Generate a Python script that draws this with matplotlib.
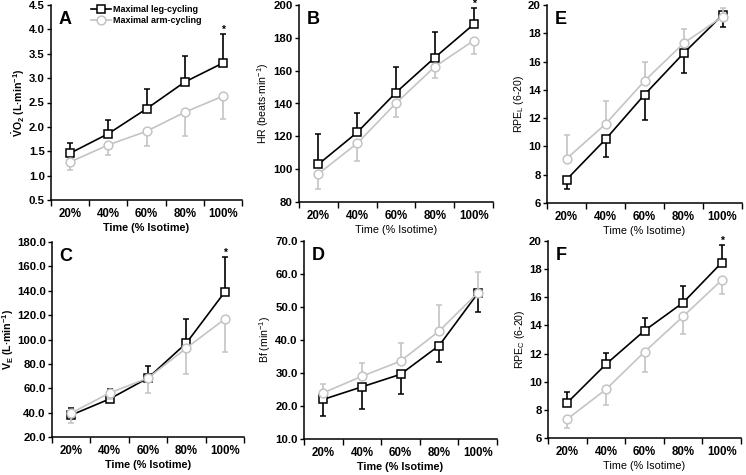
#!/usr/bin/env python3

from matplotlib import pyplot as plt
from matplotlib.lines import Line2D
from matplotlib.ticker import FormatStrFormatter, MultipleLocator, FixedLocator
import numpy as np

plt.rcParams['font.family'] = ['Liberation Sans', 'DejaVu Sans']
plt.rcParams['mathtext.fontset'] = 'custom'
plt.rcParams['mathtext.rm'] = 'Liberation Sans'
plt.rcParams['mathtext.it'] = 'Liberation Sans:italic'
plt.rcParams['mathtext.bf'] = 'Liberation Sans:bold'

x_labels = ['20%', '40%', '60%', '80%', '100%']

vo2_leg = [1.46, 1.86, 2.37, 2.92, 3.31]
vo2_leg_sd = [0.21, 0.28, 0.41, 0.53, 0.59]
vo2_arm = [1.28, 1.63, 1.91, 2.30, 2.63]
vo2_arm_sd = [0.17, 0.21, 0.30, 0.49, 0.47]

hr_leg = [103.0, 122.4, 146.7, 168.0, 188.2]
hr_leg_sd = [18.5, 11.9, 15.5, 15.7, 9.8]
hr_arm = [97.2, 115.7, 140.2, 162.4, 178.3]
hr_arm_sd = [9.0, 11.0, 8.5, 6.7, 8.4]

rpel_leg = [7.65, 10.5, 13.66, 16.58, 19.29]
rpel_leg_sd = [0.68, 1.23, 1.77, 1.41, 0.87]
rpel_arm = [9.13, 11.58, 14.63, 17.29, 19.17]
rpel_arm_sd = [1.67, 1.61, 1.32, 1.01, 0.60]

ve_leg = [38.0, 51.2, 68.4, 97.1, 139.0]
ve_leg_sd = [5.8, 8.2, 9.8, 19.7, 28.7]
ve_arm = [39.7, 56.1, 68.4, 93.0, 116.8]
ve_arm_sd = [8.2, 5.0, 12.3, 21.3, 27.1]

bf_leg = [22.0, 25.8, 29.6, 38.3, 54.1]
bf_leg_sd = [5.1, 6.6, 6.1, 5.0, 5.5]
bf_arm = [24.0, 29.0, 33.6, 42.7, 54.3]
bf_arm_sd = [2.7, 4.1, 5.5, 8.0, 6.3]

rpec_leg = [8.51, 11.24, 13.63, 15.62, 18.46]
rpec_leg_sd = [0.74, 0.80, 0.93, 1.19, 1.24]
rpec_arm = [7.35, 9.45, 12.12, 14.64, 17.22]
rpec_arm_sd = [0.62, 1.13, 1.42, 1.24, 1.00]

W, H = 746, 475
GRAY = '#c4c4c4'


def add_axes(fig, left, right, top, bottom):
    return fig.add_axes([left / W, 1 - bottom / H, (right - left) / W, (bottom - top) / H])


def panel(ax, letter, leg, leg_sd, arm, arm_sd, ylim, ystep, yfmt, ylabel,
          leg_up=True, star=False, bold_label=False, bold_xlabel=True):
    x = np.arange(1, 6)
    zeros = np.zeros(5)
    leg_err = [zeros, leg_sd] if leg_up else [leg_sd, zeros]
    arm_err = [arm_sd, zeros] if leg_up else [zeros, arm_sd]
    ax.errorbar(x, leg, yerr=leg_err, color='black', lw=1.2, marker='s', ms=6.3,
                mfc='white', mec='black', mew=1.1, capsize=2, elinewidth=1.2,
                capthick=1.2, zorder=3, clip_on=False, label='Maximal leg-cycling')
    ax.errorbar(x, arm, yerr=arm_err, color=GRAY, lw=1.2, marker='o', ms=6.3,
                mfc='white', mec=GRAY, mew=1.1, capsize=2, elinewidth=1.2,
                capthick=1.2, zorder=4, clip_on=False, label='Maximal arm-cycling')
    if star:
        ax.annotate('*', xy=(5, leg[-1] + leg_sd[-1]), xytext=(0, 1.0),
                    textcoords='offset points', ha='center', va='baseline',
                    fontsize=7.5, fontweight='bold')
    ax.set_xlim(0.5, 5.5)
    ax.set_ylim(*ylim)
    ax.set_xticks(x)
    ax.set_xticklabels(x_labels)
    ax.xaxis.set_minor_locator(FixedLocator(np.arange(0.5, 6, 1)))
    ax.tick_params(axis='x', which='major', length=0, pad=6, labelsize=8.3)
    ax.tick_params(axis='x', which='minor', length=4, width=1, direction='out')
    ax.yaxis.set_major_locator(MultipleLocator(ystep))
    ax.yaxis.set_major_formatter(FormatStrFormatter(yfmt))
    ax.tick_params(axis='y', length=3, width=1, direction='out', pad=1.5, labelsize=8.2)
    for lab in ax.get_xticklabels() + ax.get_yticklabels():
        lab.set_fontweight('bold')
    for s in ['top', 'right']:
        ax.spines[s].set_visible(False)
    for s in ['left', 'bottom']:
        ax.spines[s].set_linewidth(1.1)
    ax.set_ylabel(ylabel, fontsize=7.6, fontweight='bold' if bold_label else 'normal', labelpad=1.5)
    ax.set_xlabel('Time (% Isotime)', fontsize=7.8,
                  fontweight='bold' if bold_xlabel else 'normal', labelpad=2)
    ax.text(0.04, 0.97, letter, transform=ax.transAxes, fontsize=13, fontweight='bold',
            ha='left', va='top')


def main():
    fig = plt.figure(figsize=(W / 100, H / 100), dpi=100)

    ax_a = add_axes(fig, 51, 242, 5, 200)
    panel(ax_a, 'A', vo2_leg, vo2_leg_sd, vo2_arm, vo2_arm_sd, (0.5, 4.5), 0.5, '%.1f',
          r'$\mathbf{\dot{V}}$O$_\mathbf{2}$ (L·min$^\mathbf{-1}$)', star=True, bold_label=True)
    handles = [
        Line2D([], [], color='black', lw=1.2, marker='s', ms=6.3, mfc='white', mec='black', mew=1.1),
        Line2D([], [], color=GRAY, lw=1.2, marker='o', ms=6.3, mfc='white', mec=GRAY, mew=1.1),
    ]
    ax_a.legend(handles, ['Maximal leg-cycling', 'Maximal arm-cycling'],
                loc='upper left', bbox_to_anchor=(0.19, 1.02), frameon=False,
                prop={'size': 6.5, 'weight': 'bold'}, handlelength=2.2,
                handletextpad=0.2, labelspacing=0.25, borderaxespad=0)

    ax_b = add_axes(fig, 299, 493, 5, 202)
    panel(ax_b, 'B', hr_leg, hr_leg_sd, hr_arm, hr_arm_sd, (80, 200), 20, '%d',
          r'HR (beats·min$^{-1}$)', star=True, bold_xlabel=False)

    ax_e = add_axes(fig, 547, 742, 5, 203)
    panel(ax_e, 'E', rpel_leg, rpel_leg_sd, rpel_arm, rpel_arm_sd, (6, 20), 2, '%d',
          r'RPE$_\mathrm{L}$ (6-20)', leg_up=False, bold_xlabel=False)

    ax_c = add_axes(fig, 52, 244, 242, 437)
    panel(ax_c, 'C', ve_leg, ve_leg_sd, ve_arm, ve_arm_sd, (20, 180), 20, '%.1f',
          r'$\mathbf{\dot{V}_E}$ (L·min$^\mathbf{-1}$)', star=True, bold_label=True)
    ax_c.yaxis.set_label_coords(-0.19, 0.5)

    ax_d = add_axes(fig, 304, 497, 241, 439)
    panel(ax_d, 'D', bf_leg, bf_leg_sd, bf_arm, bf_arm_sd, (10, 70), 10, '%.1f',
          r'Bf (min$^{-1}$)', leg_up=False)

    ax_f = add_axes(fig, 548, 741, 241, 438)
    panel(ax_f, 'F', rpec_leg, rpec_leg_sd, rpec_arm, rpec_arm_sd, (6, 20), 2, '%d',
          r'RPE$_\mathrm{C}$ (6-20)', star=True, bold_xlabel=False)

    fig.savefig('out.png', dpi=100)


if __name__ == "__main__":
    main()
